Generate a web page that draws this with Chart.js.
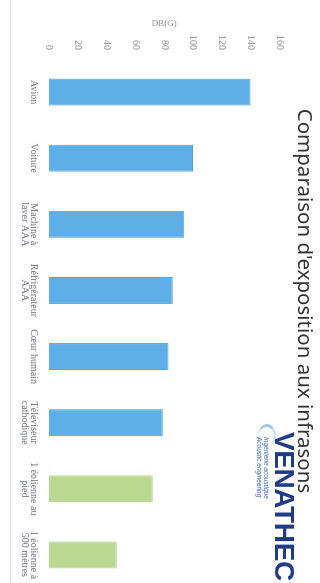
<!DOCTYPE html>
<html lang="fr">
<head>
<meta charset="utf-8">
<title>Comparaison d'exposition aux infrasons</title>
<script src="https://cdn.jsdelivr.net/npm/chart.js@4.4.1/dist/chart.umd.min.js"></script>
<style>
  html, body { margin: 0; padding: 0; background: #fff; }
  body { width: 320px; height: 583px; overflow: hidden; position: relative; }
  /* le graphique est dessiné à plat puis tourné d'un quart de tour, comme la photo */
  #page {
    position: absolute; left: 0; top: 0;
    width: 602px; height: 320px;
    transform-origin: 0 0;
    transform: translate(320px, 0) rotate(90deg);
  }
  #bord { position: absolute; left: 10px; top: 0; width: 1px; height: 583px; background: #e8e8e8; }
  .logo { position: absolute; white-space: nowrap; }
  #logo-nom { left: 432px; top: 22px; font: 900 28px/1 "Liberation Sans", Arial, sans-serif; color: #1f3d87; letter-spacing: -0.4px; }
  .logo-sous { font: italic 6.5px/1 "Liberation Sans", Arial, sans-serif; color: #3d69b0; }
  #logo-fr { left: 437px; top: 51px; }
  #logo-en { left: 437px; top: 58px; }
  #logo-arc { left: 424px; top: 44px; width: 20px; height: 16px; border-radius: 50%; border-left: 3px solid #9cc9ec; border-top: 2px solid #c4def3; }
</style>
</head>
<body>
<div id="bord"></div>
<div id="page">
  <canvas id="infrasonsChart" width="602" height="320"></canvas>
  <div class="logo" id="logo-arc"></div>
  <div class="logo" id="logo-nom">VENATHEC</div>
  <div class="logo logo-sous" id="logo-fr">Ingénierie acoustique</div>
  <div class="logo logo-sous" id="logo-en">Acoustic engineering</div>
</div>
<script>
// Données
const sources = ["Avion", "Voiture", ["Machine à", "laver AAA"], ["Réfrigérateur", "AAA"], "Cœur humain", ["Téléviseur", "cathodique"], ["1 éolienne au", "pied"], ["1 éolienne à", "500 mètres"]];
const niveaux = [140, 100, 94, 86, 83, 79, 72, 47];
const familles = ["quotidien", "quotidien", "quotidien", "quotidien", "quotidien", "quotidien", "éolien", "éolien"];
const graduations = [0, 20, 40, 60, 80, 100, 120, 140, 160];

// Couleurs par famille
const fond = { quotidien: "#5eaee8", "éolien": "#b8d98f" };
const trait = { quotidien: "#4d9fe0", "éolien": "#a9cf7d" };

const ctx = document.getElementById("infrasonsChart").getContext("2d");
const infrasonsChart = new Chart(ctx, {
    type: "bar",
    data: {
        labels: sources,
        datasets: [{
            label: "DB(G)",
            data: niveaux,
            backgroundColor: familles.map(f => fond[f]),
            borderColor: familles.map(f => trait[f]),
            borderWidth: 1,
            categoryPercentage: 0.8,
            barPercentage: 0.51
        }]
    },
    options: {
        responsive: false,
        animation: false,
        layout: { padding: { left: 14, right: 14, top: 0, bottom: 0 } },
        plugins: {
            legend: { display: false },
            tooltip: { enabled: false },
            title: {
                display: true,
                text: "Comparaison d'exposition aux infrasons",
                color: "#333333",
                font: { family: "'Noto Sans', sans-serif", size: 20.5, weight: "normal" },
                padding: { top: 4, bottom: 12 }
            }
        },
        scales: {
            x: {
                grid: { display: false, drawTicks: false },
                border: { display: false },
                ticks: {
                    padding: 11,
                    autoSkip: false,
                    maxRotation: 0,
                    color: "#707480",
                    font: { family: "'Liberation Serif', serif", size: 10, lineHeight: 0.9 }
                },
                afterFit: (s) => { s.height = 49; }
            },
            y: {
                min: graduations[0],
                max: graduations[graduations.length - 1],
                grid: { display: false, drawTicks: false },
                border: { display: false },
                ticks: {
                    stepSize: graduations[1] - graduations[0],
                    padding: 9,
                    color: "#8c8c8c",
                    font: { family: "'Liberation Serif', serif", size: 10 }
                },
                title: {
                    display: true,
                    text: "DB(G)",
                    color: "#8c8c8c",
                    font: { family: "'Liberation Serif', serif", size: 9 },
                    padding: { top: 4, bottom: 0 }
                },
                afterFit: (s) => { s.width = 45; }
            }
        }
    }
});
</script>
</body>
</html>
